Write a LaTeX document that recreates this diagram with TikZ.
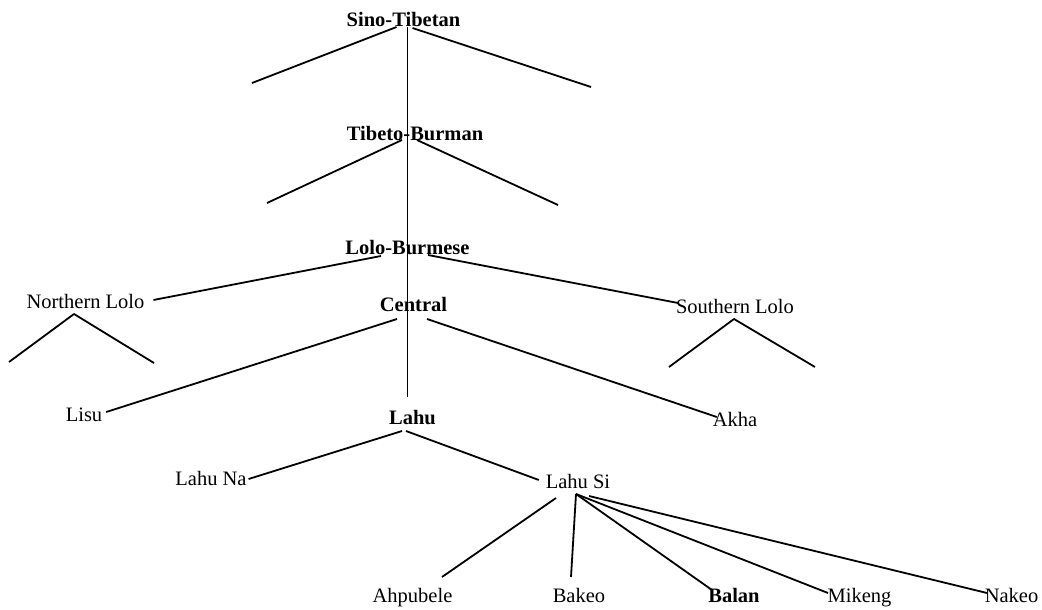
\documentclass[tikz,border=0pt]{standalone}
\usepackage{fontspec}
\setmainfont{Liberation Serif}
\usetikzlibrary{calc}
\begin{document}
\begin{tikzpicture}[x=1pt,y=-1pt,
  lang/.style={inner sep=0pt, outer sep=0pt, anchor=south,
    text height=14pt, text depth=0pt, font=\fontsize{20.5}{24}\selectfont},
  group/.style={lang, font=\fontsize{20.5}{24}\selectfont\bfseries},
  branch/.style={line width=1.8pt, line join=round}]
\useasboundingbox (0,0) rectangle (1042,610);

% language and group labels (placed on their baselines)
\node[group] (st) at (403.5,27)  {Sino-Tibetan};
\node[group] (tb) at (415,140)   {Tibeto-Burman};
\node[group] (lb) at (407.5,254) {Lolo-Burmese};
\node[lang]  (nl) at (85.5,308)  {Northern Lolo};
\node[group] (ce) at (413.5,311) {Central};
\node[lang]  (sl) at (735,313)   {Southern Lolo};
\node[lang]  (li) at (84,421)    {Lisu};
\node[group] (lh) at (412.5,424) {Lahu};
\node[lang]  (ak) at (735,426)   {Akha};
\node[lang]  (ln) at (211,485)   {Lahu Na};
\node[lang]  (ls) at (578,488)   {Lahu Si};
\node[lang]  (ah) at (412.5,602) {Ahpubele};
\node[lang]  (bk) at (579,602)   {Bakeo};
\node[group] (bl) at (734,602)   {Balan};
\node[lang]  (mk) at (859.5,602) {Mikeng};
\node[lang]  (nk) at (1011.5,602){Nakeo};

% open ends of unnamed sister branches
\coordinate (stA) at (252,83);
\coordinate (stB) at (591,87);
\coordinate (tbA) at (267,203);
\coordinate (tbB) at (558,205);
\coordinate (nlA) at (9,362);
\coordinate (nlB) at (154,363);
\coordinate (slA) at (669,367);
\coordinate (slB) at (815,367);
\coordinate (trunk) at (407.5,0);

% main vertical line of descent
\draw[branch] (st.south -| trunk) -- (tb.south -| trunk) -- (lb.south -| trunk)
  -- (ce.south -| trunk) -- ($(lh.north -| trunk)+(0,-13)$);

% Sino-Tibetan and Tibeto-Burman sisters
\draw[branch] ($(st.south)+(-7,0)$) -- (stA);
\draw[branch] ($(st.south)+(9,1)$) -- (stB);
\draw[branch] ($(tb.south)+(-13,0)$) -- (tbA);
\draw[branch] ($(tb.south)+(2,0)$) -- (tbB);

% Lolo-Burmese
\draw[branch] ($(lb.south)+(-26.5,2)$) -- ($(nl.east)+(9,-1)$);
\draw[branch] ($(lb.south)+(20.5,1)$) -- ($(sl.west)+(2,-3)$);
\draw[branch] (nlA) -- ($(nl.south)+(-11.5,6)$) -- (nlB);
\draw[branch] (slA) -- ($(sl.south)+(-1,6)$) -- (slB);

% Central
\draw[branch] ($(ce.south)+(-16.5,8)$) -- ($(li.east)+(4,-2)$);
\draw[branch] ($(ce.south)+(13.5,8)$) -- ($(ak.west)+(4,-2)$);

% Lahu
\draw[branch] ($(lh.south)+(-10.5,7)$) -- ($(ln.east)+(2,1)$);
\draw[branch] ($(lh.south)+(-6.5,7)$) -- ($(ls.west)+(-7,-1)$);

% Lahu Si dialects
\draw[branch] ($(ls.south)+(-22,10)$) -- ($(ah.north)+(29.5,-11)$);
\draw[branch] ($(ls.south)+(-2,6)$) -- ($(bk.north)+(-8,-11)$);
\draw[branch] ($(ls.south)+(-2,6)$) -- ($(bl.north)+(-22,2)$);
\draw[branch] ($(ls.south)+(-2,6)$) -- ($(mk.north)+(-31.5,5)$);
\draw[branch] ($(ls.south)+(11,8)$) -- ($(nk.north)+(-24.5,5)$);
\end{tikzpicture}
\end{document}
